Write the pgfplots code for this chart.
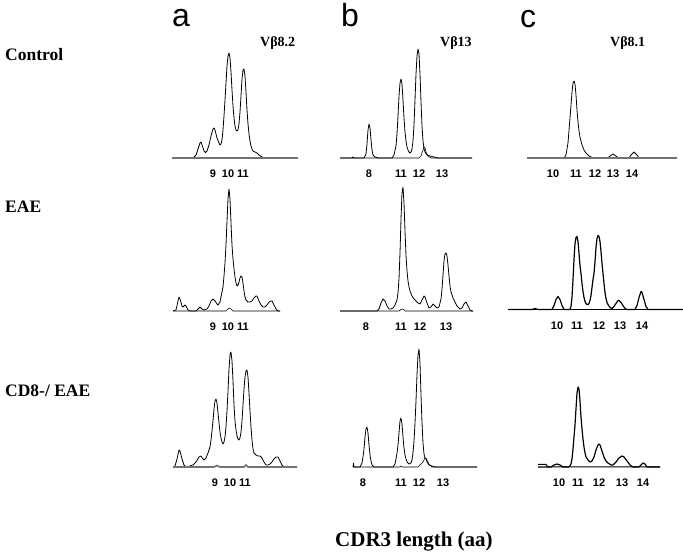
\documentclass[border=0pt]{standalone}
\usepackage{fontspec}
\setmainfont{Liberation Serif}
\newfontfamily\sansf{Liberation Sans}
\usepackage{pgfplots}
\pgfplotsset{compat=1.18}
\pgfplotsset{
  panel/.style={scale only axis, anchor=south west, ymin=0, ymax=130, height=130pt,
    hide y axis, axis x line*=bottom, x axis line style={draw=none},
    major tick length=0pt, clip=false,
    xticklabel style={font=\sansf\bfseries\fontsize{11}{11}\selectfont, anchor=center, yshift=-16pt, inner sep=0pt}},
  trace/.style={black, line width=0.8pt, line join=round, mark=none},
  tracethick/.style={black, line width=1.2pt, line join=round, mark=none},
  basegray/.style={black!55, line width=1.7pt, mark=none},
  basethin/.style={black, line width=0.6pt, mark=none},
  baseblack/.style={black, line width=1.6pt, mark=none},
}
\begin{document}
\begin{tikzpicture}
\useasboundingbox (0pt,0pt) rectangle (683pt,553pt);
% ---------------- Row 1: Control ----------------
\begin{axis}[panel, at={(172pt,395pt)}, width=126pt, xmin=172, xmax=298,
  xtick={213,228,243}, xticklabels={9,10,11}]
\addplot[trace] coordinates {(172,0) (193,0) (196,3) (198,9) (200,15) (201,16) (202,13) (204,7) (205.5,5.5) (207,7) (209,13) (211,22) (213,29) (214,30) (215,28) (217,20) (219,15) (220,13) (221,14) (222,18) (223,28) (224,42) (225,58) (226,75) (227,92) (228,102) (229,105) (230,100) (231,86) (232,68) (233,52) (234,40) (235,32) (236,28) (237,27) (238,28) (239,34) (240,46) (241,62) (242,79) (243,88) (244,89) (245,82) (246,66) (247,48) (248,34) (249,24) (250,17) (251,12) (252,9) (253,7) (255,6) (257,5) (259,3) (262,1) (265,0) (298,0)};
\addplot[basegray] coordinates {(172,0) (298,0)};
\end{axis}
\begin{axis}[panel, at={(340pt,395pt)}, width=132pt, xmin=340, xmax=472,
  xtick={369,401,419,442}, xticklabels={8,11,12,13}]
\addplot[trace] coordinates {(340,0) (352,0) (353,1) (354,0) (364,0) (366,4) (367,14) (368,28) (369,34) (370,30) (371,18) (372,8) (373,3) (375,1) (378,0) (392,0) (394,3) (396,12) (397,24) (398,42) (399,62) (400,75) (401,79) (402,74) (403,58) (404,40) (405,26) (406,17) (407,11) (408,8) (409,6) (410,5) (411,6) (412,9) (413,17) (414,33) (415,58) (416,84) (417,102) (418,109) (419,104) (420,84) (421,56) (422,32) (423,17) (424,9) (425,6) (427,3) (430,2) (434,1) (438,0) (472,0)};
\addplot[basethin] coordinates {(340,0) (419,0) (421,2) (423,8) (424,11) (425,10) (426,6) (428,2) (431,0) (472,0)};
\end{axis}
\begin{axis}[panel, at={(527pt,395pt)}, width=150pt, xmin=527, xmax=677,
  xtick={553,576,595,613,632}, xticklabels={10,11,12,13,14}]
\addplot[trace] coordinates {(527,0) (564,0) (566,3) (568,15) (570,40) (572,66) (573,75) (574,77) (575,74) (576,63) (577,48) (578,36) (579,27) (580,21) (582,13) (584,8) (586,5) (589,2) (593,0) (608,0) (610,2) (613,4) (616,2) (618,0) (629,0) (631,3) (634,6) (637,3) (639,0) (677,0)};
\addplot[basegray] coordinates {(527,0) (677,0)};
\end{axis}
% ---------------- Row 2: EAE ----------------
\begin{axis}[panel, at={(173pt,242pt)}, width=107pt, xmin=173, xmax=280,
  xtick={213,228,243}, xticklabels={9,10,11}]
\addplot[trace] coordinates {(173,0) (176,1) (178,10) (179,14) (180,12) (182,5) (183,4) (185,6) (186,5) (188,1) (190,0) (196,0) (198,2) (200,4) (202,2) (204,1) (207,2) (209,5) (211,10) (213,12) (215,10) (217,7) (218,6) (220,9) (221,14) (222,19) (223,24) (224,35) (225,48) (226,66) (227,90) (228,112) (229,122) (230,112) (231,88) (232,66) (233,52) (234,42) (235,34) (236,28) (237,25) (238,26) (239,29) (240,33) (241,35) (242,34) (243,28) (244,20) (245,14) (246,11) (248,9) (250,9) (252,10) (254,13) (256,15) (257,15) (259,10) (261,6) (263,4) (265,4) (267,6) (269,9) (271,10) (272,10) (274,6) (276,2) (278,0) (280,0)};
\addplot[basethin] coordinates {(173,0) (226,0) (228,2) (229,3) (231,2) (233,0) (280,0)};
\end{axis}
\begin{axis}[panel, at={(340pt,242pt)}, width=133pt, xmin=340, xmax=473,
  xtick={366,401,420,446}, xticklabels={8,11,12,13}]
\addplot[trace] coordinates {(340,0) (377,0) (379,2) (381,8) (383,12) (385,10) (387,5) (389,2) (391,2) (393,3) (395,6) (397,11) (398,18) (399,32) (400,58) (401,92) (402,118) (403,124) (404,108) (405,80) (406,56) (407,40) (408,30) (409,24) (410,20) (412,15) (414,12) (416,10) (418,8) (420,7) (422,11) (424,15) (425,14) (427,8) (429,3) (431,4) (433,7) (435,5) (437,3) (439,4) (441,12) (442,22) (443,36) (444,50) (445,57) (446,58) (447,55) (448,46) (449,35) (450,25) (451,19) (453,13) (455,9) (457,5) (460,2) (462,3) (464,7) (466,9) (468,5) (470,1) (472,0) (473,0)};
\addplot[basethin] coordinates {(340,0) (399,0) (401,1.5) (403,2) (405,0) (473,0)};
\end{axis}
\begin{axis}[panel, at={(508pt,243.5pt)}, width=175pt, xmin=508, xmax=683,
  xtick={557,577,599,620,642}, xticklabels={10,11,12,13,14}]
\addplot[tracethick] coordinates {(508,0) (532,0) (535,1) (538,0) (552,0) (554,4) (556,10) (558,13) (560,10) (562,4) (564,0) (570,0) (571,3) (572,12) (573,30) (574,50) (575,66) (576,72) (577,73) (578,68) (579,56) (580,44) (581,36) (582,26) (583,18) (584,12) (585,8) (586,6) (587,5) (588,5) (589,6) (590,9) (591,14) (592,22) (593,30) (594,36) (595,48) (596,62) (597,71) (598,74) (599,73) (600,68) (601,58) (602,46) (603,36) (604,26) (605,17) (606,11) (607,7) (608,5) (610,2) (612,1) (614,3) (616,6) (618,9) (619,9) (621,7) (623,4) (625,1) (627,0) (635,0) (637,4) (639,12) (641,18) (642,17) (644,10) (646,3) (648,0) (683,0)};
\addplot[baseblack] coordinates {(508,0) (683,0)};
\end{axis}
% ---------------- Row 3: CD8-/ EAE ----------------
\begin{axis}[panel, at={(173pt,86pt)}, width=124pt, xmin=173, xmax=297,
  xtick={215,230,245}, xticklabels={9,10,11}]
\addplot[trace] coordinates {(173,0) (175,1) (177,8) (179,17) (180,16) (182,8) (184,2) (186,0) (190,1) (193,2) (196,5) (199,10) (201,11) (203,8) (204,7) (206,9) (208,14) (210,20) (211,27) (212,36) (213,46) (214,58) (215,66) (216,68) (217,64) (218,54) (219,44) (220,35) (221,29) (222,25) (223,23) (224,25) (225,30) (226,40) (227,56) (228,76) (229,98) (230,112) (231,115) (232,106) (233,86) (234,62) (235,46) (236,37) (237,31) (238,28) (239,27) (240,29) (241,35) (242,46) (243,62) (244,78) (245,90) (246,96) (247,97) (248,90) (249,74) (250,56) (251,40) (252,27) (253,18) (254,14) (256,12) (258,11) (260,11) (262,9) (264,5) (266,2) (268,2) (270,3) (272,5) (274,8) (276,10) (278,10) (280,6) (282,2) (284,0) (297,0)};
\addplot[basegray] coordinates {(173,0) (214,0) (217,1.5) (220,0) (244,0) (246,2) (248,0) (297,0)};
\end{axis}
\begin{axis}[panel, at={(353pt,86pt)}, width=124pt, xmin=353, xmax=477,
  xtick={363,401,419,443}, xticklabels={8,11,12,13}]
\addplot[trace] coordinates {(353,0) (353.5,4) (354,0) (360,0) (362,4) (363,10) (364,18) (365,30) (366,38) (367,40) (368,34) (369,22) (370,12) (371,6) (372,2) (374,0) (393,0) (395,3) (396,8) (397,14) (398,22) (399,34) (400,46) (401,49) (402,43) (403,30) (404,19) (405,12) (406,8) (407,5) (409,3) (411,4) (412,7) (413,14) (414,26) (415,44) (416,66) (417,92) (418,112) (419,118) (420,104) (421,72) (422,44) (423,24) (424,13) (425,9) (426,8) (427,5) (429,2) (432,1) (435,0) (477,0)};
\addplot[basethin] coordinates {(353,0) (400,0) (401,1) (402,0) (418,0) (420,2) (423,5) (425,9) (426,9) (427,7) (429,3) (432,0) (477,0)};
\end{axis}
\begin{axis}[panel, at={(538pt,86pt)}, width=122pt, xmin=538, xmax=660,
  xtick={559,578,599,622,643}, xticklabels={10,11,12,13,14}]
\addplot[tracethick] coordinates {(538,0) (551,0) (554,2) (557,3) (560,2) (563,0) (569,0) (571,3) (572,8) (573,18) (574,30) (575,42) (576,58) (577,74) (578,80) (579,78) (580,66) (581,50) (582,38) (583,28) (584,20) (585,14) (586,10) (588,7) (590,5) (592,6) (594,10) (596,17) (598,22) (599,23) (600,22) (602,16) (604,10) (606,6) (608,4) (611,2) (613,2) (616,5) (619,9) (622,11) (624,10) (627,6) (630,2) (633,0) (639,0) (641,2) (643,4) (645,3) (647,0) (660,0)};
\addplot[basethin, line width=1pt] coordinates {(538,2.5) (546,2.5) (548,0) (660,0)};
\end{axis}
% ---------------- Text ----------------
\node[anchor=base west, inner sep=0pt, font=\sansf\fontsize{32}{36}\selectfont] at (172pt,526pt) {a};
\node[anchor=base west, inner sep=0pt, font=\sansf\fontsize{32}{36}\selectfont] at (341pt,526pt) {b};
\node[anchor=base west, inner sep=0pt, font=\sansf\fontsize{32}{36}\selectfont] at (520pt,525pt) {c};
\node[anchor=base west, inner sep=0pt, font=\bfseries\fontsize{14}{16}\selectfont] at (260pt,506pt) {Vβ8.2};
\node[anchor=base west, inner sep=0pt, font=\bfseries\fontsize{14}{16}\selectfont] at (440pt,506pt) {Vβ13};
\node[anchor=base west, inner sep=0pt, font=\bfseries\fontsize{14}{16}\selectfont] at (610pt,506pt) {Vβ8.1};
\node[anchor=base west, inner sep=0pt, font=\bfseries\fontsize{17.5}{20}\selectfont] at (5pt,492pt) {Control};
\node[anchor=base west, inner sep=0pt, font=\bfseries\fontsize{17.5}{20}\selectfont] at (5pt,340pt) {EAE};
\node[anchor=base west, inner sep=0pt, font=\bfseries\fontsize{17.5}{20}\selectfont] at (5pt,156pt) {CD8-/ EAE};
\node[anchor=base west, inner sep=0pt, font=\bfseries\fontsize{21}{24}\selectfont] at (335pt,6pt) {CDR3 length (aa)};
\end{tikzpicture}
\end{document}
